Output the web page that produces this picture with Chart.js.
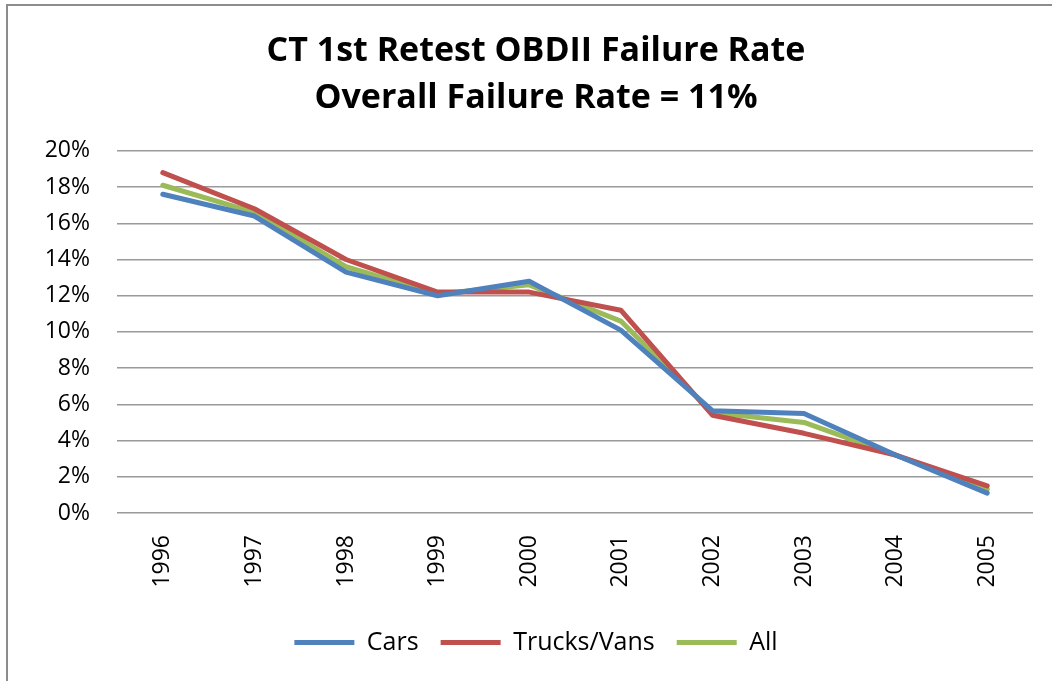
<!DOCTYPE html>
<html>
<head>
<meta charset="utf-8">
<script src="https://cdn.jsdelivr.net/npm/chart.js@4"></script>
<style>
    html, body { margin: 0; padding: 0; background: #fff; overflow: hidden; }
    #frame {
        position: absolute; left: 6px; top: 4px;
        width: 1100px; height: 720px;
        border: 2px solid #8c8c8c;
        pointer-events: none;
    }
    #wrap { position: absolute; left: 0; top: 0; width: 1072px; height: 681px; }
</style>
</head>
<body>
<div id="frame"></div>
<div id="wrap"><canvas id="failureChart" width="1072" height="681"></canvas></div>
<script>
const years = ["1996", "1997", "1998", "1999", "2000", "2001", "2002", "2003", "2004", "2005"];
const carsRate = [17.6, 16.4, 13.3, 12.0, 12.8, 10.1, 5.65, 5.5, 3.2, 1.1];
const trucksRate = [18.8, 16.8, 14.0, 12.2, 12.2, 11.2, 5.4, 4.4, 3.2, 1.5];
const allRate = [18.1, 16.6, 13.6, 12.1, 12.6, 10.6, 5.55, 5.0, 3.2, 1.3];
const yTicks = [0, 2, 4, 6, 8, 10, 12, 14, 16, 18, 20];
const chartTitle = ["CT 1st Retest OBDII Failure Rate", "Overall Failure Rate = 11%"];

const FONT = "'Open Sans', 'Liberation Sans', sans-serif";

function makeLine(label, data, color) {
    return {
        label: label,
        data: data,
        borderColor: color,
        backgroundColor: color,
        borderWidth: 5,
        borderCapStyle: "round",
        borderJoinStyle: "round",
        pointRadius: 0,
        pointHoverRadius: 0,
        tension: 0
    };
}

// title and legend are centred on the whole chart frame, not on the plot
const centreOnFrame = {
    id: "centreOnFrame",
    afterLayout(chart) {
        [chart.titleBlock, chart.legend].forEach(box => {
            if (box) {
                box.left = 0;
                box.right = chart.width;
            }
        });
    }
};

new Chart(document.getElementById("failureChart"), {
    type: "line",
    data: {
        labels: years,
        datasets: [
            makeLine("Cars", carsRate, "#4f81bd"),
            makeLine("Trucks/Vans", trucksRate, "#c0504d"),
            makeLine("All", allRate, "#9bbb59")
        ]
    },
    plugins: [centreOnFrame],
    options: {
        responsive: false,
        animation: false,
        layout: { padding: { left: 0, right: 39, top: 0, bottom: 16 } },
        plugins: {
            title: {
                display: true,
                text: chartTitle,
                color: "#000",
                font: { family: FONT, size: 34, weight: "bold", lineHeight: 1.38 },
                padding: { top: 28, bottom: 29 }
            },
            legend: {
                position: "bottom",
                labels: {
                    color: "#000",
                    font: { family: FONT, size: 25 },
                    usePointStyle: true,
                    pointStyle: "line",
                    pointStyleWidth: 60,
                    padding: 22
                }
            },
            tooltip: { enabled: false }
        },
        scales: {
            x: {
                offset: true,
                grid: { display: false, drawTicks: false },
                border: { display: false },
                ticks: {
                    color: "#000",
                    font: { family: FONT, size: 23 },
                    minRotation: 90,
                    maxRotation: 90,
                    padding: 22
                },
                afterFit: function (scale) { scale.height = 95; }
            },
            y: {
                min: 0,
                max: 20,
                afterBuildTicks: function (scale) {
                    scale.ticks = yTicks.map(v => ({ value: v }));
                },
                grid: { color: "#9a9a9a", lineWidth: 1.5, drawTicks: false },
                border: { display: false },
                ticks: {
                    color: "#000",
                    font: { family: FONT, size: 23 },
                    padding: 27,
                    callback: v => v + "%"
                },
                afterFit: function (scale) { scale.width = 117; }
            }
        }
    }
});
</script>
</body>
</html>
